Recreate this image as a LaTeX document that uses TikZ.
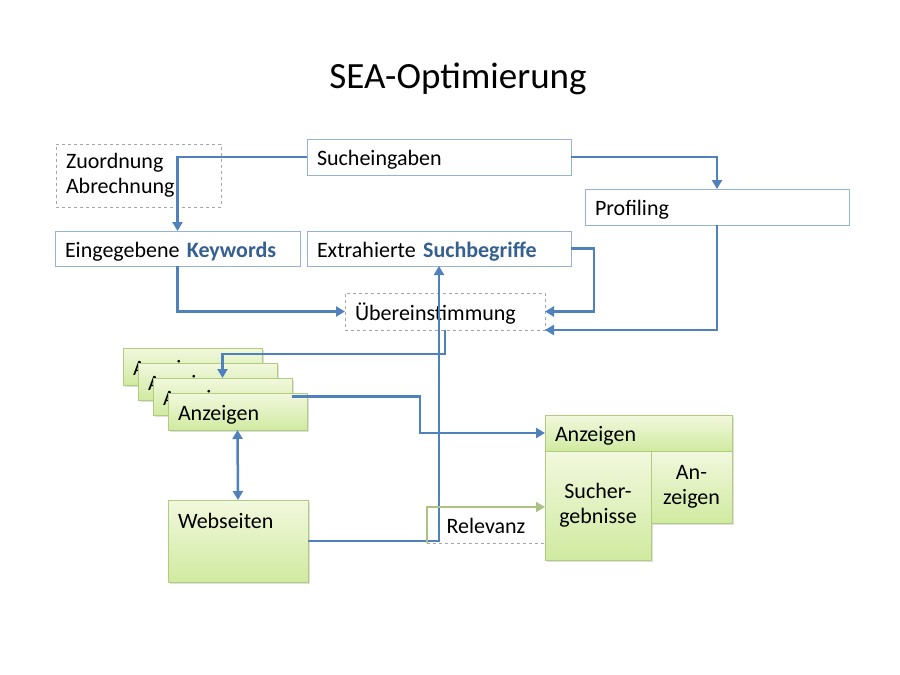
\documentclass[tikz,border=0pt]{standalone}
\usepackage{fontspec}
\setmainfont{Carlito}
\usetikzlibrary{arrows.meta,shadows}
\definecolor{linkblue}{RGB}{79,129,189}
\definecolor{boxedge}{RGB}{149,179,215}
\definecolor{keyblue}{RGB}{54,96,146}
\definecolor{dashgrey}{RGB}{165,165,175}
\definecolor{greenedge}{RGB}{175,205,125}
\definecolor{greentop}{RGB}{242,248,222}
\definecolor{greenbot}{RGB}{208,234,160}
\definecolor{relgreen}{RGB}{170,195,130}
\begin{document}
\begin{tikzpicture}[x=1pt,y=-1pt,
    every node/.style={outer sep=0pt, inner xsep=10pt, inner ysep=0pt, anchor=north west,
      align=left, font=\fontsize{22}{25}\selectfont},
    oneline/.style={text height=19pt, text depth=2pt},
    wbox/.style={draw=boxedge, line width=1pt, fill=white},
    dbox/.style={draw=dashgrey, line width=1pt, dashed, fill=white},
    gbox/.style={draw=greenedge, line width=1pt, top color=greentop, bottom color=greenbot,
      drop shadow={opacity=0.25, shadow xshift=1.5pt, shadow yshift=-1.5pt}},
    tip/.style={-{Triangle[length=9pt,width=10pt]}},
    conn/.style={draw=linkblue, line width=2.5pt, tip}]
    \path[fill=white,use as bounding box] (0,0) rectangle (900,675);
    \node[anchor=base, font=\fontsize{37}{40}\selectfont] (title) at (458,88) {SEA-Optimierung};
    % obere Reihe
    \node[dbox, text width=145pt, minimum height=63pt] (zuord) at (56,144) {Zuordnung\\Abrechnung};
    \node[wbox, oneline, text width=244pt, minimum height=36pt] (such) at (307,139) {Sucheingaben};
    \node[wbox, oneline, text width=244pt, minimum height=36pt] (prof) at (585,189) {Profiling};
    \node[wbox, oneline, text width=225pt, minimum height=35pt] (keyw) at (55,231)
        {Eingegebene \textbf{\color{keyblue}Keywords}};
    \node[wbox, oneline, text width=244pt, minimum height=35pt] (extr) at (307,231)
        {Extrahierte \textbf{\color{keyblue}Suchbegriffe}};
    \node[dbox, oneline, text width=180pt, minimum height=37pt] (ueb) at (345,293) {Übereinstimmung};
    % Anzeigen-Stapel
    \node[gbox, oneline, text width=119pt, minimum height=37pt] (anz1) at (123,348) {Anzeigen};
    \node[gbox, oneline, text width=119pt, minimum height=37pt] (anz2) at (138,363) {Anzeigen};
    \node[gbox, oneline, text width=119pt, minimum height=37pt] (anz3) at (153,378) {Anzeigen};
    \node[gbox, oneline, text width=119pt, minimum height=37pt] (anz4) at (168,393) {Anzeigen};
    \node[gbox, text width=120pt, text height=28pt, text depth=54pt] (web) at (168,500) {Webseiten};
    % Ergebnisseite
    \node[dbox, oneline, text width=98pt, minimum height=36pt, align=center] (rel) at (427,507) {Relevanz};
    \node[gbox, oneline, text width=167pt, minimum height=36pt] (anzR) at (545,415) {Anzeigen};
    \node[gbox, text width=86pt, minimum height=109pt, align=center] (sucher) at (545,451) {Sucher-\\gebnisse};
    \node[gbox, text width=61pt, minimum height=72pt, align=center] (anzS) at (651,451) {An-\\zeigen};
    % Verbindungen
    \draw[conn] (such.west) -| (keyw.north);
    \draw[conn] (such.east) -| (prof.north);
    \draw[conn] (keyw.south) |- (ueb.west);
    \draw[conn] (extr.east) -- ++(23,0) |- (ueb.east);
    \draw[conn] (prof.south) |- (ueb.south east);
    \draw[conn] (ueb.south) -- ++(0,24) -| (anz3.north);
    \draw[conn] (anz3.east) -- ++(128,0) |- (anzR.west);
    \draw[conn] (web.east) -| (extr.south);
    \draw[conn, {Triangle[length=9pt,width=10pt]}-{Triangle[length=9pt,width=10pt]}] (anz4.south) -- (web.north);
    \draw[draw=relgreen, line width=1.5pt, tip] (rel.south west) |- (sucher.west |- rel.north);
\end{tikzpicture}
\end{document}
